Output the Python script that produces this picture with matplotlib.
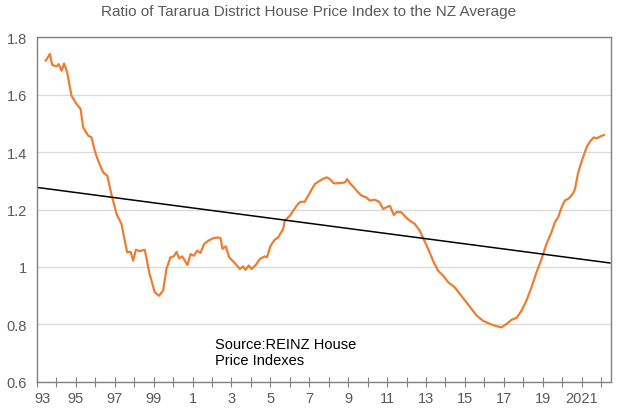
import matplotlib
matplotlib.use("Agg")
import matplotlib.pyplot as plt
from matplotlib.transforms import ScaledTranslation

plt.rcParams['font.family'] = ['Liberation Sans', 'DejaVu Sans']

# decimal years and ratio values
years = [1993.46, 1993.67, 1993.79, 1994.01, 1994.13, 1994.27, 1994.40, 1994.56,
         1994.78, 1995.04, 1995.25, 1995.38, 1995.64, 1995.81, 1995.98, 1996.15,
         1996.41, 1996.62, 1996.85, 1997.10, 1997.35, 1997.64, 1997.82, 1997.95,
         1998.09, 1998.29, 1998.55, 1998.77,
         1999.06, 1999.28, 1999.49, 1999.66, 1999.87, 2000.04, 2000.18, 2000.31,
         2000.47, 2000.61, 2000.74, 2000.90, 2001.07, 2001.24, 2001.41, 2001.60,
         2001.80, 2002.06, 2002.32, 2002.44, 2002.54, 2002.71, 2002.88, 2003.17,
         2003.43, 2003.60, 2003.72, 2003.89, 2004.03, 2004.25, 2004.46, 2004.72,
         2004.83, 2005.01, 2005.23, 2005.40, 2005.66, 2005.74, 2006.00, 2006.35,
         2006.51, 2006.60, 2006.77, 2006.94, 2007.29, 2007.63, 2007.89, 2008.06,
         2008.26, 2008.57, 2008.83, 2008.95, 2009.08, 2009.29, 2009.51, 2009.69,
         2009.94, 2010.11, 2010.37, 2010.59, 2010.80, 2010.97, 2011.14, 2011.35,
         2011.51, 2011.74, 2011.96, 2012.17, 2012.42, 2012.68, 2012.85, 2013.11,
         2013.36, 2013.62, 2013.88, 2014.14, 2014.31, 2014.48, 2014.74, 2015.08,
         2015.34, 2015.60, 2015.93, 2016.28, 2016.62, 2016.88, 2017.14, 2017.39,
         2017.65, 2017.91, 2018.16, 2018.42, 2018.68, 2018.94, 2019.19, 2019.45,
         2019.62, 2019.79, 2019.97, 2020.13, 2020.35, 2020.53, 2020.65, 2020.82,
         2021.04, 2021.25, 2021.42, 2021.62, 2021.79, 2021.97, 2022.14]
ratio = [1.718, 1.741, 1.703, 1.698, 1.706, 1.683, 1.708, 1.677,
         1.596, 1.567, 1.550, 1.486, 1.457, 1.451, 1.404, 1.370,
         1.329, 1.318, 1.248, 1.184, 1.150, 1.051, 1.053, 1.022,
         1.060, 1.055, 1.060, 0.982,
         0.912, 0.900, 0.918, 0.993, 1.034, 1.037, 1.053, 1.030,
         1.037, 1.022, 1.007, 1.045, 1.039, 1.057, 1.049, 1.080,
         1.091, 1.100, 1.103, 1.100, 1.063, 1.072, 1.034, 1.014,
         0.993, 1.002, 0.990, 1.005, 0.993, 1.007, 1.028, 1.037,
         1.034, 1.074, 1.095, 1.103, 1.132, 1.161, 1.178, 1.213,
         1.225, 1.227, 1.227, 1.248, 1.289, 1.304, 1.312, 1.306,
         1.291, 1.292, 1.294, 1.306, 1.292, 1.277, 1.260, 1.248,
         1.242, 1.231, 1.234, 1.227, 1.202, 1.208, 1.213, 1.181,
         1.192, 1.190, 1.173, 1.161, 1.150, 1.126, 1.101, 1.063,
         1.022, 0.987, 0.970, 0.947, 0.938, 0.929, 0.906, 0.877,
         0.854, 0.831, 0.813, 0.802, 0.794, 0.790, 0.802, 0.816,
         0.823, 0.848, 0.883, 0.929, 0.982, 1.028, 1.080, 1.121,
         1.155, 1.173, 1.208, 1.231, 1.239, 1.254, 1.269, 1.329,
         1.376, 1.416, 1.436, 1.451, 1.448, 1.455, 1.459]

trend_x = [1993.0, 2022.45]
trend_y = [1.277, 1.014]

tick_years = list(range(1993, 2023))
tick_labels = ['93', '', '95', '', '97', '', '99', '', '1', '', '3', '', '5', '',
               '7', '', '9', '', '11', '', '13', '', '15', '', '17', '', '19', '',
               '2021', '']

grey = '#595959'
fig = plt.figure(figsize=(6.35, 4.14), dpi=100)
ax = fig.add_axes([0.058, 0.075, 0.904, 0.833])

ax.plot(years, ratio, color='#ed7d31', lw=1.6)
ax.plot(trend_x, trend_y, color='black', lw=1.1)

ax.set_xlim(1993, 2022.5)
ax.set_ylim(0.6, 1.8)
ax.set_yticks([0.6, 0.8, 1.0, 1.2, 1.4, 1.6, 1.8])
ax.set_yticklabels(['0.6', '0.8', '1', '1.2', '1.4', '1.6', '1.8'])
ax.set_xticks(tick_years)
ax.set_xticklabels(tick_labels)
ax.grid(axis='y', color='#d9d9d9', lw=0.9)
ax.set_axisbelow(True)
ax.tick_params(axis='x', direction='inout', length=7, color='#808080',
               labelsize=10.5, labelcolor=grey, pad=3)
ax.tick_params(axis='y', length=0, labelsize=10.5, labelcolor=grey, pad=7)
for s in ax.spines.values():
    s.set_color('#808080')
    s.set_linewidth(1.0)

# first label sits a little right of its tick in the original
first = ax.get_xticklabels()[0]
first.set_transform(first.get_transform() + ScaledTranslation(0.06, 0, fig.dpi_scale_trans))

fig.text(0.486, 0.97, 'Ratio of Tararua District House Price Index to the NZ Average',
         ha='center', va='center', fontsize=11, color=grey)
ax.text(0.31, 0.13, 'Source:REINZ House\nPrice Indexes', transform=ax.transAxes,
        ha='left', va='top', fontsize=10.5, color='black', linespacing=1.2)

fig.savefig('out.png', dpi=100)
